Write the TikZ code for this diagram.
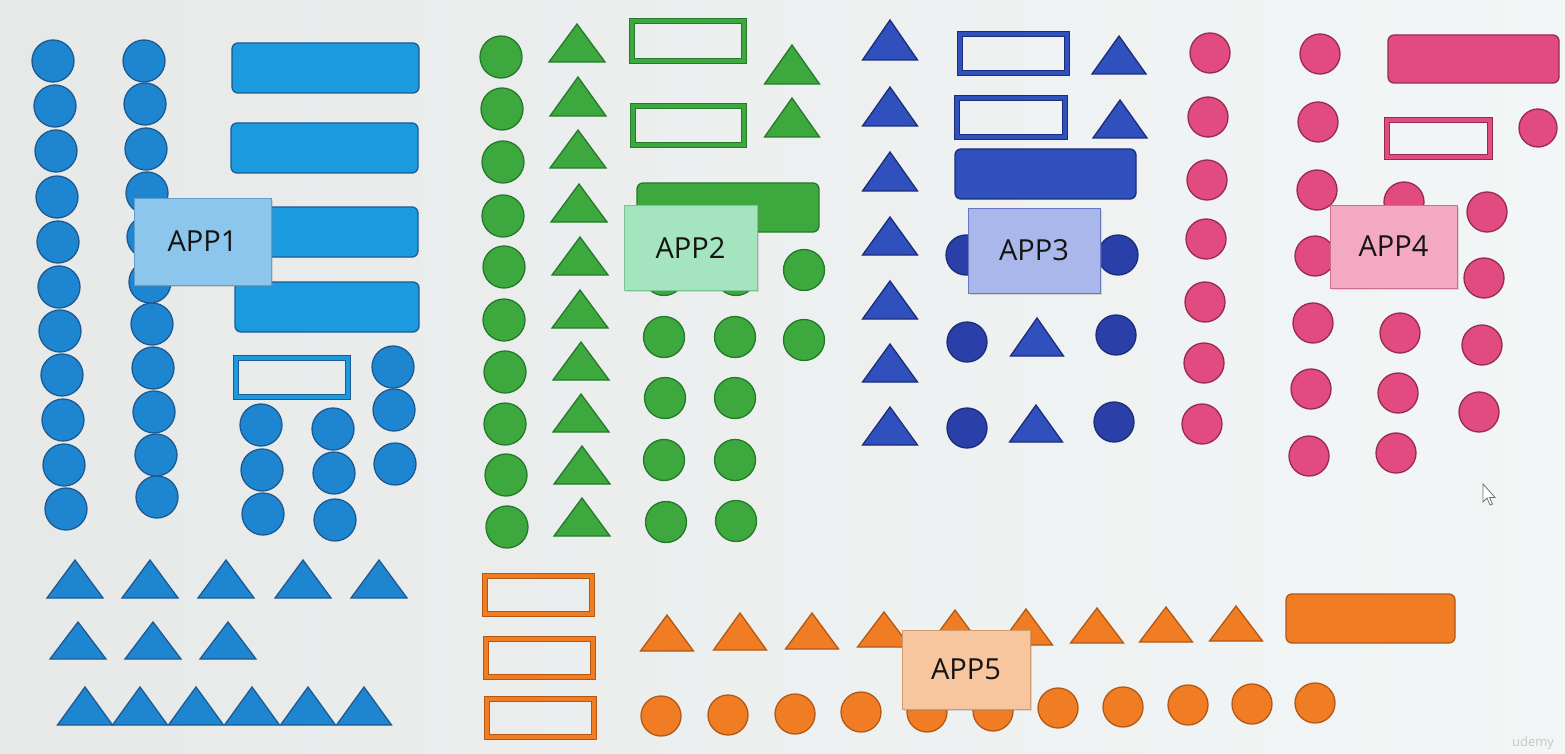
\documentclass[tikz,border=0pt]{standalone}
\usepackage{fontspec}
\setmainfont{Open Sans}
\usetikzlibrary{shadows}
\definecolor{bgL}{HTML}{E7E9E9}
\definecolor{bgR}{HTML}{F3F6F6}
\definecolor{Bc}{HTML}{1E86D0}
\definecolor{Br}{HTML}{1B9AE0}
\definecolor{Be}{HTML}{1D5A92}
\definecolor{Gc}{HTML}{3DA83D}
\definecolor{Ge}{HTML}{24792A}
\definecolor{Dc}{HTML}{3050BE}
\definecolor{Dd}{HTML}{2A40A8}
\definecolor{De}{HTML}{1C2C78}
\definecolor{Pc}{HTML}{E24B7F}
\definecolor{Pe}{HTML}{972A50}
\definecolor{Oc}{HTML}{F07D23}
\definecolor{Oe}{HTML}{B35814}
\definecolor{L1}{HTML}{8CC6EC}
\definecolor{L1e}{HTML}{5E9FCF}
\definecolor{L2}{HTML}{A4E4BF}
\definecolor{L2e}{HTML}{78C493}
\definecolor{L3}{HTML}{A9B7EB}
\definecolor{L3e}{HTML}{6878C0}
\definecolor{L4}{HTML}{F2A9C1}
\definecolor{L4e}{HTML}{CC6E8F}
\definecolor{L5}{HTML}{F7C59E}
\definecolor{L5e}{HTML}{D39A6C}
\newcommand\tri[5]{\filldraw[#1] ({#2-#5},#4) -- (#2,#3) -- ({#2+#5},#4) -- cycle;}
\newcommand\blob[4]{\filldraw[#1] (#2,#3) circle[radius=#4pt];}
\newcommand\orect[6]{\draw[draw=#2, line width=6pt] (#3,#4) rectangle (#5,#6); \draw[draw=#1, line width=3.4pt] (#3,#4) rectangle (#5,#6);}
\newcommand\frect[5]{\filldraw[#1, rounded corners=6pt] (#2,#3) rectangle (#4,#5);}
\tikzset{
  sb/.style={fill=Bc, draw=Be, line width=1.3pt},
  sbr/.style={fill=Br, draw=Be, line width=1.3pt},
  sg/.style={fill=Gc, draw=Ge, line width=1.3pt},
  sd/.style={fill=Dc, draw=De, line width=1.3pt},
  sdd/.style={fill=Dd, draw=De, line width=1.3pt},
  sp/.style={fill=Pc, draw=Pe, line width=1.3pt},
  so/.style={fill=Oc, draw=Oe, line width=1.3pt},
  lbl/.style={line width=0.8pt, inner sep=0pt, text=black!92,
    font=\fontsize{29}{32}\selectfont,
    drop shadow={opacity=0.25, shadow xshift=2pt, shadow yshift=-2pt}},
}
\begin{document}
\begin{tikzpicture}[x=1pt, y=-1pt]
\useasboundingbox (0,0) rectangle (1565,754);
\fill[left color=bgL, right color=bgR] (0,0) rectangle (1565,754);

% ---------------- APP1 (blue) ----------------
\foreach \x/\y in {53/61,55/106,56/151,57/197,58/242,59/287,60/331,62/375,63/420,64/465,66/509}
  {\blob{sb}{\x}{\y}{21}}
\foreach \x/\y in {144/61,145/104,146/149,147/193,148/237,150/282,152/324,153/368,154/412,156/455,157/497}
  {\blob{sb}{\x}{\y}{21}}
\frect{sbr}{232}{43}{419}{93}
\frect{sbr}{231}{123}{418}{173}
\frect{sbr}{232}{207}{418}{257}
\frect{sbr}{235}{282}{419}{332}
\orect{Br}{Be}{236}{358}{348}{397}
\foreach \x/\y in {393/367,394/410,395/464,261/425,262/470,263/514,333/429,334/473,335/520}
  {\blob{sb}{\x}{\y}{21}}
% bottom-left triangles
\foreach \x in {75,150,226,303,379} {\tri{sb}{\x}{560}{598}{28}}
\foreach \x in {78,153,228} {\tri{sb}{\x}{622}{659}{28}}
\foreach \x in {85,140,196,252,308,364} {\tri{sb}{\x}{687}{725}{27.5}}

% ---------------- APP2 (green) ----------------
\foreach \x/\y in {501/57,502/109,503/162,503/216,504/267,504/320,505/372,505/424,506/475,507/527}
  {\blob{sg}{\x}{\y}{21}}
\foreach \x/\a/\b in {577/24/62,578/77/116,578/130/168,579/184/222,580/237/275,580/290/328,581/342/380,581/394/432,582/446/484,582/498/536}
  {\tri{sg}{\x}{\a}{\b}{28}}
\orect{Gc}{Ge}{632}{21}{744}{61}
\orect{Gc}{Ge}{633}{106}{744}{145}
\tri{sg}{792}{45}{84}{27.5}
\tri{sg}{792}{98}{137}{27.5}
\frect{sg}{637}{183}{819}{232}
\foreach \x/\y in {664/275,664/337,665/398,664/460,666/522,736/275,735/337,735/398,735/460,736/521,804/270,804/340}
  {\blob{sg}{\x}{\y}{20.5}}

% ---------------- APP3 (dark blue) ----------------
\foreach \a/\b in {20/60,87/126,152/191,217/255,281/319,344/382,407/445}
  {\tri{sd}{890}{\a}{\b}{27.5}}
\orect{Dc}{De}{960}{34}{1067}{73}
\orect{Dc}{De}{957}{98}{1065}{137}
\tri{sd}{1119}{36}{74}{27}
\tri{sd}{1120}{100}{138}{27}
\frect{sd}{955}{149}{1136}{199}
\foreach \x/\y in {966/255,1118/255,967/342,1116/335,967/428,1114/422}
  {\blob{sdd}{\x}{\y}{20}}
\tri{sd}{1037}{318}{356}{26.5}
\tri{sd}{1036}{405}{442}{26.5}

% ---------------- APP4 (pink) ----------------
\foreach \x/\y in {1210/53,1208/117,1207/180,1206/239,1205/302,1204/363,1202/424,
                   1320/54,1318/122,1317/190,1315/256,1313/323,1311/389,1309/456,
                   1404/202,1401/268,1400/333,1398/393,1396/453,
                   1487/212,1484/278,1482/345,1479/412}
  {\blob{sp}{\x}{\y}{20}}
\blob{sp}{1538}{128}{19}
\frect{sp}{1388}{35}{1559}{83}
\orect{Pc}{Pe}{1387}{120}{1490}{157}

% ---------------- APP5 (orange) ----------------
\orect{Oc}{Oe}{485}{576}{592}{614}
\orect{Oc}{Oe}{486}{639}{593}{677}
\orect{Oc}{Oe}{487}{699}{594}{737}
\foreach \x/\a/\b in {667/615/651,740/613/650,812/613/649,884/612/647,955/610/646,1026/609/645,1097/608/643,1166/607/642,1236/606/641}
  {\tri{so}{\x}{\a}{\b}{26.5}}
\frect{so}{1286}{594}{1455}{643}
\foreach \x/\y in {661/716,728/715,795/714,861/712,927/712,993/711,1058/708,1123/707,1188/705,1252/704,1315/703}
  {\blob{so}{\x}{\y}{20}}

% ---------------- labels ----------------
\node[lbl, fill=L1, draw=L1e, minimum width=137pt, minimum height=87pt] (app1) at (202.5,241.5) {APP1};
\node[lbl, fill=L2, draw=L2e, minimum width=133pt, minimum height=85pt] (app2) at (690.5,247.5) {APP2};
\node[lbl, fill=L3, draw=L3e, minimum width=132pt, minimum height=85pt] (app3) at (1034,250.5) {APP3};
\node[lbl, fill=L4, draw=L4e, minimum width=127pt, minimum height=83pt] (app4) at (1393.5,246.5) {APP4};
\node[lbl, fill=L5, draw=L5e, minimum width=128pt, minimum height=79pt] (app5) at (966,669.5) {APP5};

% cursor and watermark
\filldraw[fill=white, draw=black!55, line width=0.8pt] (1483,484) -- (1483,502) -- (1487,498) -- (1490,505) -- (1492.5,504) -- (1489.5,497.5) -- (1495,497.5) -- cycle;
\node[text=black!40, opacity=0.5, font=\fontsize{13}{14}\selectfont] (wm) at (1533,743) {udemy};
\end{tikzpicture}
\end{document}
